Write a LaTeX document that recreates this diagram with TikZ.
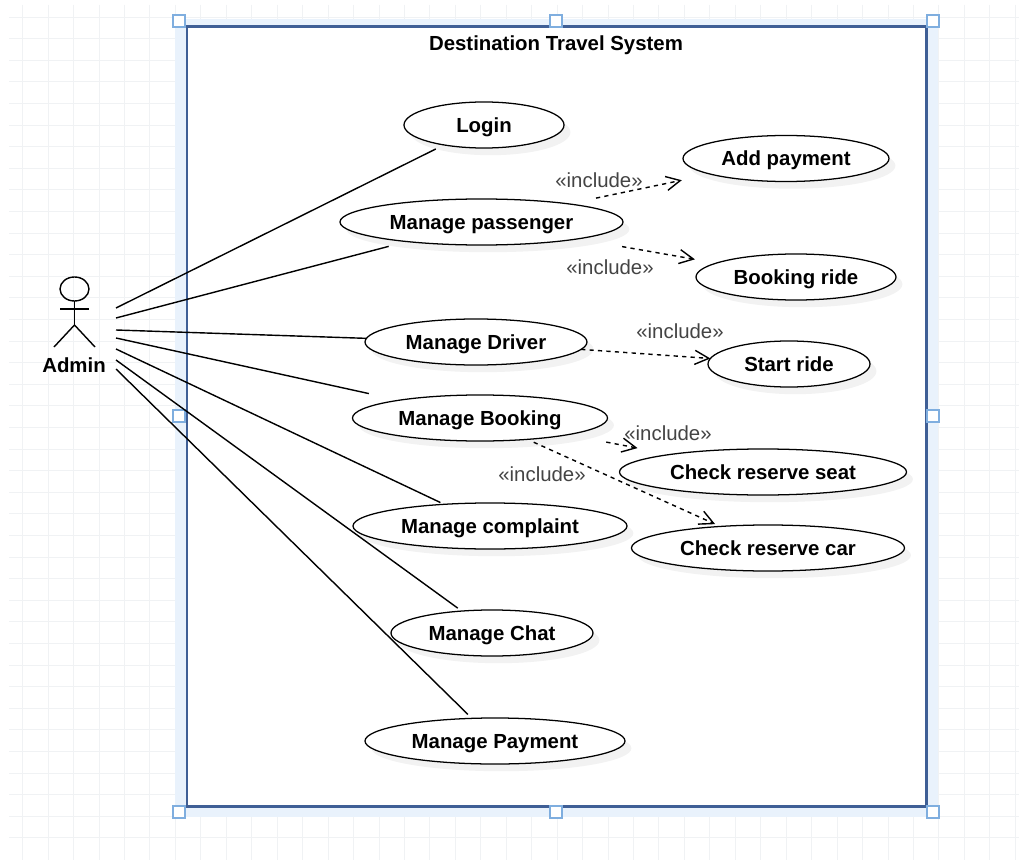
\documentclass[tikz,border=0pt]{standalone}
\usepackage{fontspec}
\setmainfont{Liberation Sans}
\usepackage{xcolor}
\usepackage{tikz}
\usetikzlibrary{arrows.meta}
\usetikzlibrary{shapes.geometric}
\usetikzlibrary{shadows}
\definecolor{Rasterfarbe}{HTML}{F0F2F4}
\definecolor{Bandfarbe}{HTML}{E9F2FC}
\definecolor{Rahmenfarbe}{HTML}{3F5F96}
\definecolor{Griffrand}{HTML}{7FAEDF}
\definecolor{Labelfarbe}{HTML}{444444}
\tikzset{
  Raster/.style={Rasterfarbe,line width=.7pt},
  Rahmen/.style={rectangle,draw=Rahmenfarbe,fill=white,line width=2pt,inner sep=0pt,outer sep=0pt},
  Griff/.style={rectangle,draw=Griffrand,fill=white,line width=.8pt,inner sep=0pt,minimum size=.3cm},
  Fall/.style={ellipse,draw,fill=white,line width=.9pt,inner sep=0pt,outer sep=0pt,
    minimum width=#1*0.025cm,minimum height=1.15cm,
    text height=13.3pt,text depth=3pt,font=\fontsize{14.5}{16}\selectfont\bfseries,
    drop shadow={shadow xshift=.16cm,shadow yshift=-.18cm,opacity=.1}},
  Linie/.style={line width=1pt,shorten >=#1}, % gap to the ellipse
  Incl/.style 2 args={dashed,line width=1pt,shorten <=#1,shorten >=#2,->},
  Label/.style={Labelfarbe,font=\fontsize{14.5}{16}\selectfont,inner sep=0pt}
}

\begin{document}
\begin{tikzpicture}[x=0.025cm,y=-0.025cm,
>={Straight Barb[length=10pt,width=10pt,line width=1pt]} % open arrow tip
]
\useasboundingbox (0,0) rectangle (1019,860);
\fill[white] (0,0) rectangle (1019,860);

%Grid
\foreach \k in {0,...,39}
  \draw[Raster] ({22.7+25.45*\k},5) -- ({22.7+25.45*\k},860);
\foreach \j in {0,...,38}
  \draw[Raster] (9,{17+21.6*\j}) -- (1019,{17+21.6*\j});

%Frame
\fill[Bandfarbe] (175,19) rectangle (938,817);
\node[Rahmen,minimum width=18.475cm,minimum height=19.475cm] (Sys) at (556.5,416.5) {};
\node[Label,text=black,font=\fontsize{14.5}{16}\selectfont\bfseries] (Titel) at (556,45) {Destination Travel System};
\foreach \n/\x/\y in {NW/179/21,N/556/21,NE/933/21,W/179/416,E/933/416,SW/179/812,S/556/812,SE/933/812}
  \node[Griff] (G\n) at (\x,\y) {};

%Actor
\draw[line width=1pt] (74.5,289) ellipse [x radius=14.5,y radius=12];
\draw[line width=1pt] (74.5,301) -- (74.5,325);
\draw[line width=1pt] (60,309) -- (89,309);
\draw[line width=1pt] (54,347) -- (74.5,325) -- (95,347);
\node[Label,text=black,font=\fontsize{14.5}{16}\selectfont\bfseries] (Admin) at (74,365) {Admin};
\coordinate (A1) at (116,308);
\coordinate (A2) at (116,318);
\coordinate (A3) at (116,330);
\coordinate (A4) at (116,338);
\coordinate (A5) at (116,349);
\coordinate (A6) at (116,360);
\coordinate (A7) at (116,369);

%Use cases
\node[Fall=160] (Login) at (484,125) {Login};
\node[Fall=283] (Pass) at (481.5,222) {Manage passenger};
\node[Fall=222] (Driver) at (476,342) {Manage Driver};
\node[Fall=255] (Book) at (480,418) {Manage Booking};
\node[Fall=274] (Compl) at (490,526) {Manage complaint};
\node[Fall=202] (Chat) at (492,633) {Manage Chat};
\node[Fall=260] (Pay) at (495,741) {Manage Payment};
\node[Fall=206] (AddP) at (786,158.5) {Add payment};
\node[Fall=200] (Ride) at (796,277) {Booking ride};
\node[Fall=162] (Start) at (789,364) {Start ride};
\node[Fall=287] (Seat) at (763,472) {Check reserve seat};
\node[Fall=273] (Car) at (768,548) {Check reserve car};

%Lines from the actor
\draw[Linie=6.5pt] (A1) -- (Login);
\draw[Linie=13.5pt] (A2) -- (Pass);
\draw[Linie=0pt] (A3) -- (Driver);
\draw[Linie=22pt] (A4) -- (Book);
\draw[Linie=3pt] (A5) -- (Compl);
\draw[Linie=3.5pt] (A6) -- (Chat);
\draw[Linie=4pt] (A7) -- (Pay);

%Include arrows
\draw[Incl={20pt}{21pt}] (Pass) -- (AddP);
\draw[Incl={32pt}{15.5pt}] (Pass) -- (Ride);
\draw[Incl={0pt}{0pt}] (Driver) -- (Start);
\draw[Incl={28pt}{24pt}] (Book) -- (Seat);
\draw[Incl={5pt}{4pt}] (Book) -- (Car);
\node[Label] (L1) at (599,180) {«include»};
\node[Label] (L2) at (610,267) {«include»};
\node[Label] (L3) at (680,331) {«include»};
\node[Label] (L4) at (668,433) {«include»};
\node[Label] (L5) at (542,474) {«include»};

\end{tikzpicture}
\end{document}
